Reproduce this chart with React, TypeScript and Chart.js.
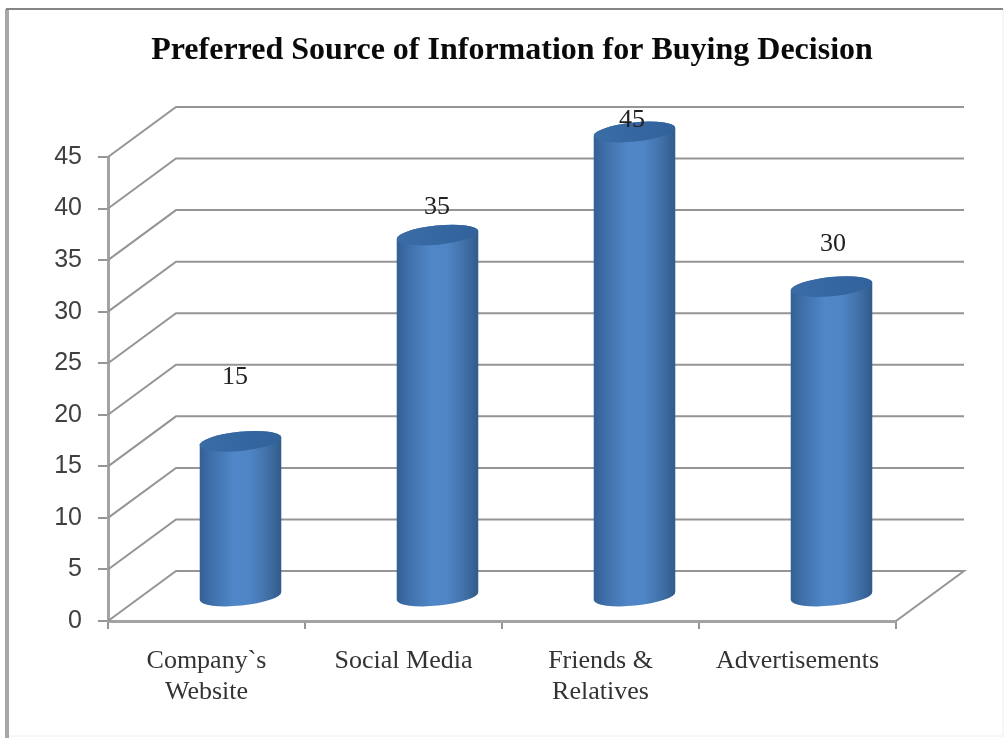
import React, { useEffect, useRef } from "react";
import { Chart, registerables } from "chart.js";

Chart.register(...registerables);

const TITLE = "Preferred Source of Information for Buying Decision";
const categories: string[][] = [["Company`s", "Website"], ["Social Media"], ["Friends &", "Relatives"], ["Advertisements"]];
const responses: number[] = [15, 35, 45, 30];
// Where each value caption floats relative to its column's front-plane top.
const captionLift: number[] = [89, 53, 37, 67];
const captionShift: number[] = [28.5, 33.5, 31.5, 35.5];

const DEPTH_X = 68;
const DEPTH_Y = -50;
const GRID_COLOR = "#959595";
const AXIS_COLOR = "#a3a3a3";
const SERIF = "'Liberation Serif', serif";
const SANS = "'Liberation Sans', sans-serif";

// Outer chart frame, heavier on the top and left edges.
const framePlugin = {
  id: "frame",
  beforeDraw(chart: any) {
    const { ctx } = chart;
    ctx.save();
    ctx.fillStyle = "#ffffff";
    ctx.fillRect(0, 0, chart.width, chart.height);
    ctx.strokeStyle = "#eeeeee";
    ctx.lineWidth = 1;
    ctx.strokeRect(7, 9, 996, 727);
    ctx.fillStyle = "#a8a8a8";
    ctx.fillRect(5, 9, 4, 729);
    ctx.fillStyle = "#858585";
    ctx.fillRect(6, 8, 997, 2);
    ctx.restore();
    // The heading sits right of the plot's centre.
    const block = chart.titleBlock;
    if (block && !block.$shifted) {
      block.left += 64;
      block.right += 64;
      block.$shifted = true;
    }
  },
};

// Back wall, side wall and floor of the 3-D plot box, taken from the value scale.
const wallsPlugin = {
  id: "walls",
  beforeDatasetsDraw(chart: any) {
    const { ctx, chartArea, scales } = chart;
    ctx.save();
    ctx.strokeStyle = GRID_COLOR;
    ctx.lineWidth = 2;
    scales.y.ticks.forEach((t: any) => {
      const y = scales.y.getPixelForValue(t.value);
      ctx.beginPath();
      ctx.moveTo(chartArea.left, y);
      ctx.lineTo(chartArea.left + DEPTH_X, y + DEPTH_Y);
      ctx.lineTo(chartArea.right + DEPTH_X, y + DEPTH_Y);
      if (t.value === 0) ctx.lineTo(chartArea.right, y);
      ctx.stroke();
    });
    ctx.restore();
  },
};

// Cylinders stand mid-way through the box depth, built from each bar element's geometry.
const columnsPlugin = {
  id: "columns",
  afterDatasetsDraw(chart: any) {
    const { ctx, scales } = chart;
    const meta = chart.getDatasetMeta(0);
    const base = scales.y.getPixelForValue(0) + DEPTH_Y / 2;
    const tilt = -0.1;
    const ry = 9.6;
    meta.data.forEach((bar: any, i: number) => {
      const cx = bar.x + DEPTH_X / 2;
      const top = bar.y + DEPTH_Y / 2;
      const rx = bar.width / 2;
      const dropX = rx * Math.cos(tilt);
      const dropY = rx * Math.sin(tilt);

      const body = ctx.createLinearGradient(cx - rx, 0, cx + rx, 0);
      body.addColorStop(0, "#325f94");
      body.addColorStop(0.14, "#3f6fa9");
      body.addColorStop(0.42, "#5087c8");
      body.addColorStop(0.62, "#4f85c5");
      body.addColorStop(0.86, "#3e6da3");
      body.addColorStop(1, "#305b89");

      ctx.save();
      ctx.fillStyle = body;
      ctx.beginPath();
      ctx.moveTo(cx - dropX, top - dropY);
      ctx.lineTo(cx - dropX, base - dropY);
      ctx.ellipse(cx, base, rx, ry, tilt, Math.PI, 0, true);
      ctx.lineTo(cx + dropX, top + dropY);
      ctx.ellipse(cx, top, rx, ry, tilt, 0, Math.PI, true);
      ctx.closePath();
      ctx.fill();

      const cap = ctx.createLinearGradient(cx - rx, 0, cx + rx, 0);
      cap.addColorStop(0, "#3a6ca6");
      cap.addColorStop(1, "#31629b");
      ctx.beginPath();
      ctx.ellipse(cx, top, rx, ry, tilt, 0, Math.PI * 2);
      ctx.fillStyle = cap;
      ctx.fill();

      ctx.fillStyle = "#222222";
      ctx.font = `26px ${SERIF}`;
      ctx.textAlign = "center";
      ctx.textBaseline = "middle";
      ctx.fillText(String(responses[i]), bar.x + captionShift[i], bar.y - captionLift[i]);
      ctx.restore();
    });
  },
};

export default function App() {
  const canvasRef = useRef<HTMLCanvasElement | null>(null);

  useEffect(() => {
    const chart = new Chart(canvasRef.current as HTMLCanvasElement, {
      type: "bar",
      data: {
        labels: categories as any,
        datasets: [
          {
            data: responses,
            backgroundColor: "rgba(0,0,0,0)",
            borderWidth: 0,
            categoryPercentage: 1,
            barPercentage: 0.416,
          },
        ],
      },
      plugins: [framePlugin, wallsPlugin, columnsPlugin],
      options: {
        animation: false,
        responsive: false,
        layout: { padding: { left: 0, right: 110, top: 0, bottom: 0 } },
        plugins: {
          legend: { display: false },
          tooltip: { enabled: false },
          title: {
            display: true,
            text: TITLE,
            color: "#0a0a0a",
            font: { family: SERIF, size: 32, weight: "bold", lineHeight: 1.2 },
            padding: { top: 32, bottom: 86.6 },
          },
        },
        scales: {
          x: {
            afterFit(scale: any) {
              scale.height = 117;
            },
            border: { color: AXIS_COLOR, width: 3 },
            grid: { drawOnChartArea: false, drawTicks: true, tickLength: 8, color: GRID_COLOR, lineWidth: 2 },
            ticks: {
              color: "#333333",
              font: { family: SERIF, size: 26, lineHeight: 1.19 },
              padding: 16.5,
              autoSkip: false,
              minRotation: 0,
              maxRotation: 0,
            },
          },
          y: {
            min: 0,
            max: 45,
            afterFit(scale: any) {
              scale.width = 108;
            },
            border: { color: AXIS_COLOR, width: 3 },
            grid: { drawOnChartArea: false, drawTicks: true, tickLength: 10, color: GRID_COLOR, lineWidth: 2 },
            ticks: {
              stepSize: 5,
              color: "#404040",
              font: { family: SANS, size: 25 },
              padding: 16,
            },
          },
        },
      },
    } as any);
    return () => chart.destroy();
  }, []);

  return (
    <div style={{ position: "absolute", left: 0, top: 0, width: 1006, height: 738, overflow: "hidden", background: "#fff" }}>
      <canvas ref={canvasRef} width={1006} height={738} style={{ display: "block" }} />
    </div>
  );
}
